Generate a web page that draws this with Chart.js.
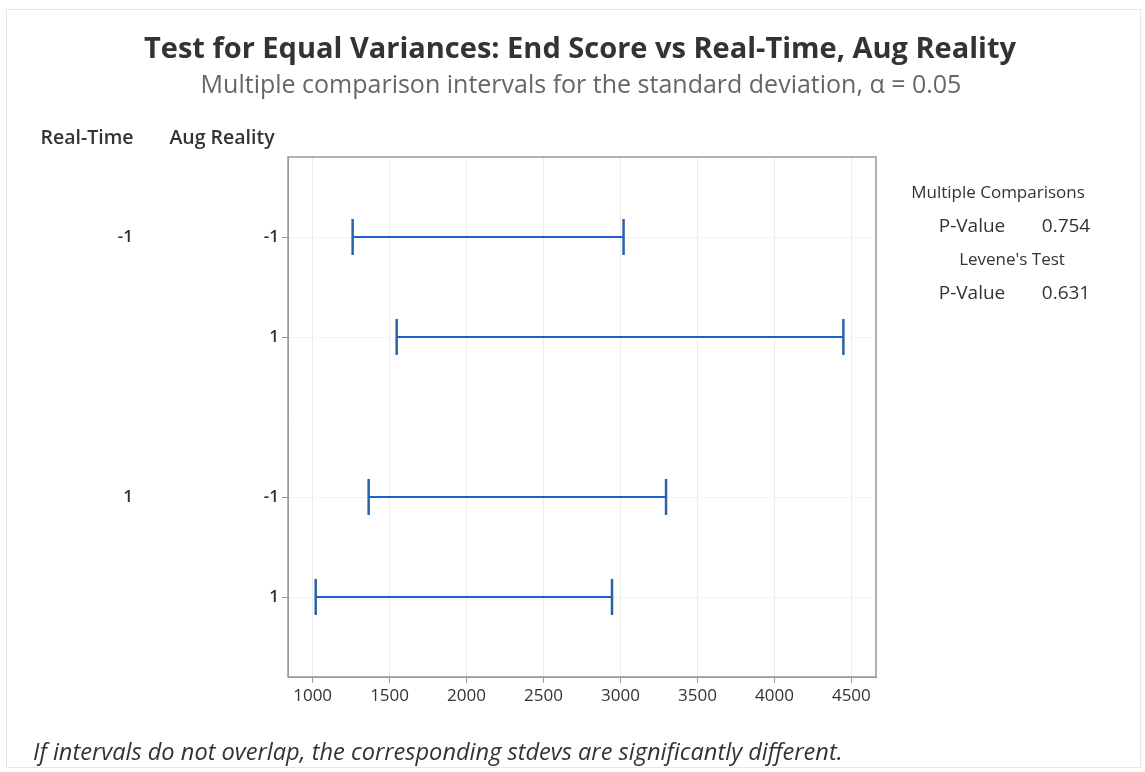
<!DOCTYPE html>
<html>
<head>
<meta charset="utf-8">
<script src="https://cdn.jsdelivr.net/npm/chart.js@4/dist/chart.umd.min.js"></script>
<style>
  body { margin: 0; background: #fff; }
  #wrap { width: 1145px; height: 772px; }
</style>
</head>
<body>
<div id="wrap"><canvas id="myChart" width="1145" height="772"></canvas></div>
<script>
  // groups and interval ends
  const realTime = ['-1', '-1', '1', '1'];
  const augReality = ['-1', '1', '-1', '1'];
  const lowerCI = [1260, 1546, 1364, 1020];
  const upperCI = [3020, 4448, 3296, 2945];
  const rowPos = [1, 2, 3.6, 4.6];
  const xTicks = [1000, 1500, 2000, 2500, 3000, 3500, 4000, 4500];

  const font = '"Open Sans", "Noto Sans", sans-serif';

  const datasets = lowerCI.map((lo, i) => ({
    label: realTime[i] + ' / ' + augReality[i],
    data: [{ x: lo, y: rowPos[i] }, { x: upperCI[i], y: rowPos[i] }],
    showLine: true,
    borderColor: '#1b62d0',
    borderWidth: 2,
    pointStyle: 'line',
    rotation: 90,
    pointRadius: 18,
    pointHoverRadius: 18,
    pointBorderColor: '#2a62a6',
    pointBorderWidth: 2.5,
  }));

  const textPlugin = {
    id: 'texts',
    beforeDraw(chart) {
      const ctx = chart.ctx;
      ctx.save();
      ctx.strokeStyle = '#e6e6e6';
      ctx.lineWidth = 1;
      ctx.strokeRect(6.5, 9.5, 1134, 758);
      ctx.restore();
    },
    afterDraw(chart) {
      const ctx = chart.ctx;
      const a = chart.chartArea;
      const y = chart.scales.y;
      ctx.save();
      // plot frame
      ctx.strokeStyle = '#999';
      ctx.lineWidth = 1.5;
      ctx.strokeRect(a.left, a.top, a.right - a.left, a.bottom - a.top);

      ctx.textBaseline = 'middle';
      ctx.textAlign = 'center';
      ctx.fillStyle = '#333';
      ctx.font = 'bold 29px ' + font;
      ctx.fillText('Test for Equal Variances: End Score vs Real-Time, Aug Reality', 580, 50);
      ctx.fillStyle = '#666';
      ctx.font = '25px ' + font;
      ctx.fillText('Multiple comparison intervals for the standard deviation, \u03b1 = 0.05', 581, 86);

      ctx.fillStyle = '#333';
      ctx.font = '600 19.5px ' + font;
      ctx.fillText('Real-Time', 87, 138);
      ctx.fillText('Aug Reality', 222, 138);

      // Real-Time group labels at first row of each group
      ctx.textAlign = 'right';
      ctx.font = '600 17px ' + font;
      realTime.forEach((v, i) => {
        if (i === 0 || realTime[i - 1] !== v) {
          ctx.fillText(v, 133, y.getPixelForValue(rowPos[i]));
        }
      });

      // right side stats
      ctx.textAlign = 'center';
      ctx.font = '17px ' + font;
      ctx.fillText('Multiple Comparisons', 998, 193);
      ctx.fillText("Levene's Test", 1012, 260);
      ctx.font = '19px ' + font;
      ctx.fillText('P-Value', 972, 227);
      ctx.fillText('0.754', 1066, 227);
      ctx.fillText('P-Value', 972, 294);
      ctx.fillText('0.631', 1066, 294);

      ctx.textAlign = 'left';
      ctx.font = 'italic 23.6px ' + font;
      ctx.fillText('If intervals do not overlap, the corresponding stdevs are significantly different.', 33, 753);
      ctx.restore();
    }
  };

  const config = {
    type: 'scatter',
    data: { datasets: datasets },
    options: {
      responsive: false,
      animation: false,
      layout: { padding: { left: 0, top: 157, right: 269, bottom: 50 } },
      plugins: {
        legend: { display: false },
        tooltip: { enabled: false },
      },
      scales: {
        x: {
          type: 'linear',
          min: 840,
          max: 4660,
          afterBuildTicks: (scale) => { scale.ticks = xTicks.map(v => ({ value: v })); },
          afterFit: (scale) => { scale.height = 45; },
          ticks: {
            color: '#333',
            font: { family: font, size: 17 },
            padding: 3,
            callback: (v) => String(v),
          },
          grid: { color: '#ececec', tickColor: '#999', tickLength: 6 },
          border: { color: '#999' },
        },
        y: {
          type: 'linear',
          reverse: true,
          min: 0.2,
          max: 5.4,
          afterBuildTicks: (scale) => { scale.ticks = rowPos.map(v => ({ value: v })); },
          afterFit: (scale) => { scale.width = 288; },
          ticks: {
            color: '#333',
            font: { family: font, size: 17, weight: '600' },
            padding: 3,
            callback: (v) => augReality[rowPos.indexOf(v)],
          },
          grid: { color: '#f3f3f3', tickColor: '#999', tickLength: 6 },
          border: { color: '#999' },
        },
      },
    },
    plugins: [textPlugin],
  };

  const myChart = new Chart(document.getElementById('myChart'), config);
</script>
</body>
</html>
